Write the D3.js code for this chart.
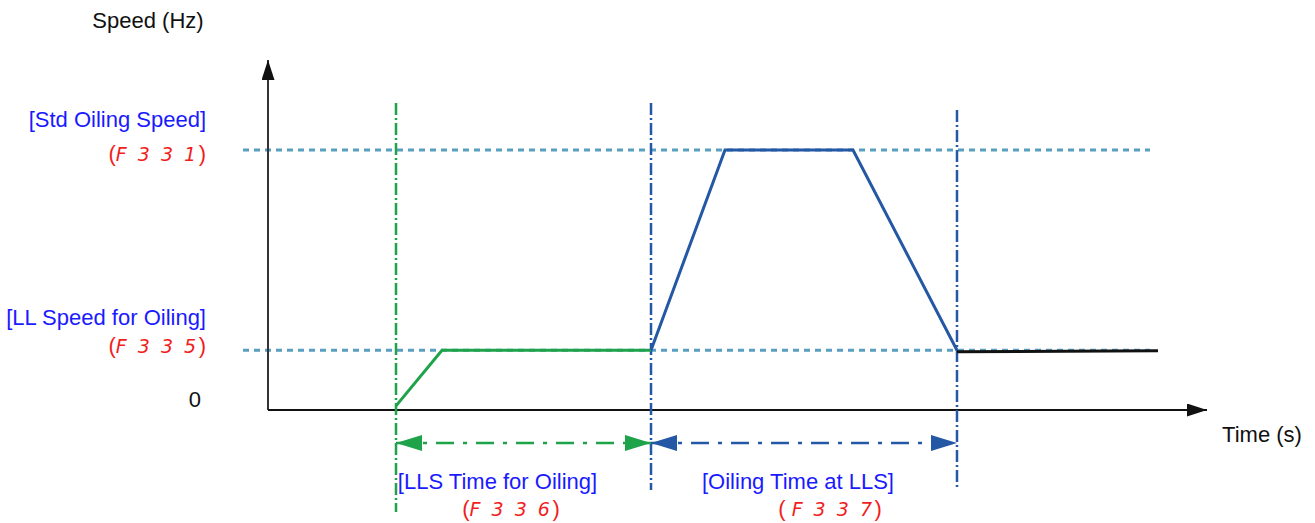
<!DOCTYPE html>
<html><head><meta charset="utf-8">
<script src="https://cdn.jsdelivr.net/npm/d3@7"></script>
<style>
body{margin:0;background:#fff;}
text{font-family:"Liberation Sans",Arial,sans-serif;}
</style></head>
<body><svg id="c" width="1315" height="523"></svg>
<script>
// ---- data ----
const speedLevels = [
  {name:"Std", label:"[Std Oiling Speed]", code:"F 3 3 1", value:50},
  {name:"LL",  label:"[LL Speed for Oiling]", code:"F 3 3 5", value:11.5}
];
const greenTimes  = [128, 174, 383];
const greenSpeeds = [0.8, 11.5, 11.5];
const blueTimes   = [383, 457, 585, 689];
const blueSpeeds  = [11.5, 50, 50, 11.5];
const blackTimes  = [689, 890];
const blackSpeeds = [11.2, 11.4];
const markerTimes = [128, 383, 689];
const intervals = [
  {label:"[LLS Time for Oiling]", code:"F 3 3 6", start:128, end:383},
  {label:"[Oiling Time at LLS]",  code:"F 3 3 7", start:383, end:689}
];
const axisLabels = {y:"Speed (Hz)", x:"Time (s)", zero:"0"};

// ---- scales ----
const x = d3.scaleLinear().domain([0, 939]).range([268, 1207]);
const y = d3.scaleLinear().domain([0, 50]).range([410, 150]);

const svg = d3.select("#c");
const defs = svg.append("defs");
function mk(id, color, w, h){
  defs.append("marker").attr("id", id).attr("viewBox", `0 0 ${w} ${h}`)
    .attr("refX", w).attr("refY", h/2).attr("markerWidth", w).attr("markerHeight", h)
    .attr("markerUnits","userSpaceOnUse").attr("orient","auto-start-reverse")
    .append("path").attr("d", `M0,0L${w},${h/2}L0,${h}Z`).attr("fill", color);
}
mk("ax", "#111", 20, 13);
mk("ag", "#1fa34a", 26, 16);
mk("ab", "#2457a4", 26, 16);

const dotC = "#5a9fc1";
svg.selectAll(".ref").data(speedLevels).join("line")
  .attr("x1", x(-25)).attr("x2", x(882))
  .attr("y1", d=>y(d.value)).attr("y2", d=>y(d.value))
  .attr("stroke", dotC).attr("stroke-width", 3).attr("stroke-dasharray","6,5");

// axes
svg.append("line").attr("x1", x(0)).attr("y1", y(0)).attr("x2", x(0)).attr("y2", 60)
  .attr("stroke","#333").attr("stroke-width",2).attr("marker-end","url(#ax)");
svg.append("line").attr("x1", x(0)).attr("y1", y(0)).attr("x2", x(939)).attr("y2", y(0))
  .attr("stroke","#111").attr("stroke-width",2).attr("marker-end","url(#ax)");

// vertical markers
svg.selectAll(".vm").data(markerTimes).join("line")
  .attr("x1", d=>x(d)).attr("x2", d=>x(d))
  .attr("y1", (d,i)=> i===2?110:103)
  .attr("y2", (d,i)=> i===0?512:490)
  .attr("stroke", (d,i)=> i===0?"#1fa34a":"#2457a4")
  .attr("stroke-width", 2.5).attr("stroke-dasharray","12,3,2,3");

// speed curves
const line = d3.line().x(d=>x(d[0])).y(d=>y(d[1]));
svg.append("path").attr("d", line(d3.zip(greenTimes, greenSpeeds)))
  .attr("fill","none").attr("stroke","#1fa34a").attr("stroke-width",3);
svg.append("path").attr("d", line(d3.zip(blueTimes, blueSpeeds)))
  .attr("fill","none").attr("stroke","#2457a4").attr("stroke-width",3);
svg.append("path").attr("d", line(d3.zip(blackTimes, blackSpeeds)))
  .attr("fill","none").attr("stroke","#111").attr("stroke-width",3);

// interval arrows
const ay = 443;
intervals.forEach((d,i)=>{
  const col = i===0?"#1fa34a":"#2457a4";
  svg.append("line").attr("x1", x(d.start)).attr("x2", x(d.end)).attr("y1", ay).attr("y2", ay)
    .attr("stroke", col).attr("stroke-width", 2.5)
    .attr("stroke-dasharray", "18,9,4,9")
    .attr("marker-start", `url(#${i===0?"ag":"ab"})`).attr("marker-end", `url(#${i===0?"ag":"ab"})`);
});

// text helpers
function codeText(g, xPos, yPos, anchor, code, gap){
  const t = g.append("text").attr("x", xPos).attr("y", yPos).attr("text-anchor", anchor)
    .attr("font-size", 22).attr("fill", "#f21d1d");
  t.append("tspan").text("(" + (gap||""));
  t.append("tspan").attr("font-style","italic").attr("font-family","'DejaVu Sans',sans-serif")
    .attr("font-weight",300).attr("font-size",19).attr("letter-spacing",2.5).text(code);
  t.append("tspan").text(")");
}

svg.append("text").attr("x", 148).attr("y", 28).attr("text-anchor","middle")
  .attr("font-size", 22).attr("fill","#111").text(axisLabels.y);
svg.append("text").attr("x", 1262).attr("y", 442).attr("text-anchor","middle")
  .attr("font-size", 22).attr("fill","#111").text(axisLabels.x);
svg.append("text").attr("x", 201).attr("y", 407).attr("text-anchor","end")
  .attr("font-size", 22).attr("fill","#111").text(axisLabels.zero);

const labY = [[127, 161],[325, 353]];
speedLevels.forEach((d,i)=>{
  svg.append("text").attr("x", 206).attr("y", labY[i][0]).attr("text-anchor","end")
    .attr("font-size", 22).attr("fill","#1a1aff").text(d.label);
  codeText(svg, 206, labY[i][1], "end", d.code);
});

const ivCodeX = [511, 830];
intervals.forEach((d,i)=>{
  svg.append("text").attr("x", (x(d.start)+x(d.end))/2 - (i===0?26:6)).attr("y", 489)
    .attr("text-anchor","middle").attr("font-size", 22).attr("fill","#1a1aff").text(d.label);
  codeText(svg, ivCodeX[i], 516, "middle", d.code, i===1?" ":"");
});
</script></body></html>
